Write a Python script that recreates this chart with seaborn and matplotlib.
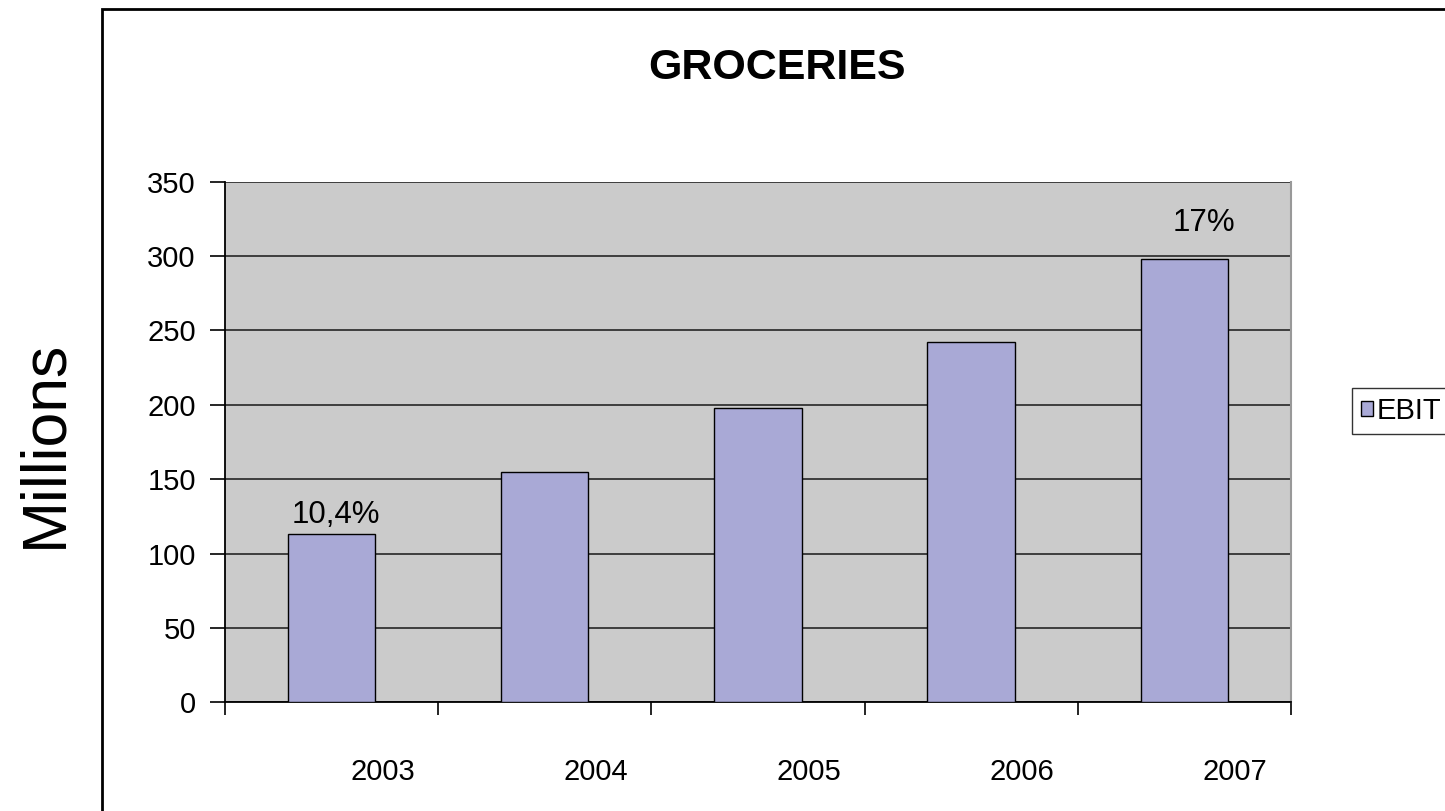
import matplotlib
matplotlib.use("Agg")
import matplotlib.pyplot as plt
import matplotlib.transforms as mtransforms
import seaborn as sns
import pandas as pd
from matplotlib.patches import Rectangle

# EBIT by year (millions)
years = ["2003", "2004", "2005", "2006", "2007"]
ebit = [113, 155, 198, 242, 298]
series_name = "EBIT"
margin_labels = {"2003": "10,4%", "2007": "17%"}
y_ticks = [0, 50, 100, 150, 200, 250, 300, 350]

sns.set_theme(style="white")
plt.rcParams["font.family"] = ["Liberation Sans", "DejaVu Sans"]
for key in ("text.color", "axes.labelcolor", "xtick.color", "ytick.color"):
    plt.rcParams[key] = "black"

BAR = "#A9A9D6"
PLOT_BG = "#CBCBCB"

fig = plt.figure(figsize=(14.45, 8.11), dpi=100)
fig.patch.set_facecolor("white")
ax = fig.add_axes([0.1557, 0.134, 0.7377, 0.642])
ax.set_facecolor(PLOT_BG)

df = pd.DataFrame({"year": years, "value": ebit})
sns.barplot(data=df, x="year", y="value", color=BAR, width=0.41,
            edgecolor="black", linewidth=1.0, saturation=1, ax=ax,
            label=series_name, zorder=3)

ax.set_ylim(0, 350)
ax.set_xlim(-0.5, len(years) - 0.5)
ax.set_yticks(y_ticks)
ax.yaxis.grid(True, color="#333333", linewidth=1.3, zorder=1)
ax.set_axisbelow(True)
ax.xaxis.grid(False)

# category boundary tick marks on the x axis
ax.set_xticks([i - 0.5 for i in range(len(years) + 1)], minor=True)
ax.tick_params(axis="x", which="minor", length=9, width=1.2, color="black",
               direction="out", bottom=True)
ax.tick_params(axis="x", which="major", length=0, pad=40, labelsize=21)
ax.tick_params(axis="y", which="major", length=11, width=1.2, color="black",
               direction="out", left=True, pad=10, labelsize=21)

# year labels sit a little right of the bar centres
shift = mtransforms.ScaledTranslation(0.51, 0, fig.dpi_scale_trans)
for lbl in ax.get_xticklabels():
    lbl.set_transform(lbl.get_transform() + shift)

for side in ("left", "bottom"):
    ax.spines[side].set_color("black")
    ax.spines[side].set_linewidth(1.3)
ax.spines["top"].set_visible(False)
ax.spines["right"].set_color("#999999")
ax.spines["right"].set_linewidth(1.5)

ax.set_xlabel("")
ax.set_ylabel("")

# margin annotations
ax.text(0.02, 126, margin_labels["2003"], ha="center", va="center", fontsize=22.5)
ax.text(4.09, 322, margin_labels["2007"], ha="center", va="center", fontsize=22.5)

fig.text(0.538, 0.916, "GROCERIES", ha="center", va="center",
         fontsize=31, fontweight="bold")
fig.text(0.031, 0.4525, "Millions", ha="center", va="center",
         rotation=90, fontsize=45)

# chart area frame (runs off the right and bottom edges)
fig.patches.append(Rectangle((0.0706, -0.1), 1.2, 1.089, transform=fig.transFigure,
                             fill=False, edgecolor="black", linewidth=2,
                             clip_on=False))

leg = ax.legend(loc="center left", bbox_to_anchor=(0.9357, 0.493),
                bbox_transform=fig.transFigure, frameon=True, fancybox=False,
                fontsize=21, handlelength=0.4, handleheight=0.4,
                handletextpad=0.15, borderpad=0.3, borderaxespad=0)
leg.get_frame().set_edgecolor("black")
leg.get_frame().set_linewidth(1.0)

fig.savefig("out.png", dpi=100)
